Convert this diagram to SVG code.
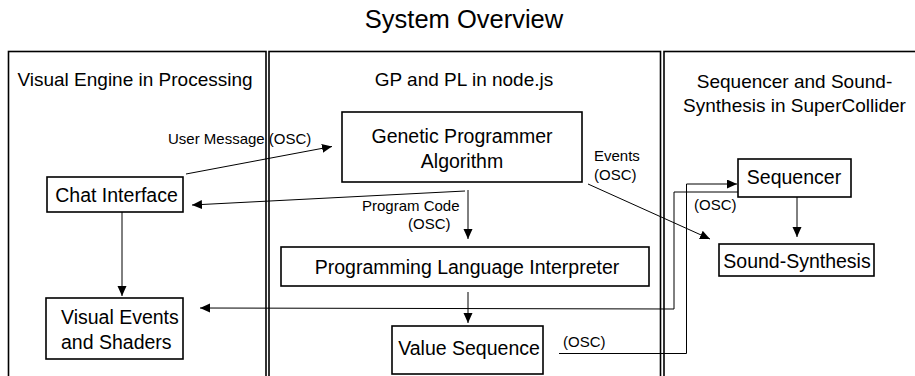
<svg xmlns="http://www.w3.org/2000/svg" width="915" height="376" viewBox="0 0 915 376">
  <style>
    text { font-family: "Liberation Sans", Arial, sans-serif; fill: #000; }
    .title { font-size: 25.5px; text-anchor: middle; }
    .ptitle { font-size: 19px; text-anchor: middle; }
    .ntext { font-size: 19.5px; text-anchor: middle; }
    .lbl { font-size: 15px; }
    .panel { fill: none; stroke: #000; stroke-width: 1.6; }
    .box { fill: #fff; stroke: #000; stroke-width: 1.6; }
    .conn { fill: none; stroke: #000; stroke-width: 1; }
  </style>
  <defs>
    <marker id="arrow" markerUnits="userSpaceOnUse" markerWidth="11" markerHeight="10" refX="10" refY="4.5" orient="auto">
      <path d="M0,0 L10,4.5 L0,9 z" fill="#000"/>
    </marker>
  </defs>
  <rect width="915" height="376" fill="#fff"/>
  <text class="title" x="464" y="28">System Overview</text>

  <g id="panel-processing">
    <rect class="panel" x="8.5" y="51.5" width="257.5" height="340"/>
    <text class="ptitle" x="135" y="86">Visual Engine in Processing</text>
  </g>
  <g id="panel-node">
    <rect class="panel" x="269" y="51.5" width="391.5" height="340"/>
    <text class="ptitle" x="464" y="86">GP and PL in node.js</text>
  </g>
  <g id="panel-supercollider">
    <rect class="panel" x="664" y="51.5" width="270" height="340"/>
    <text class="ptitle" x="794.5" y="88">Sequencer and Sound-</text>
    <text class="ptitle" x="794.5" y="112">Synthesis in SuperCollider</text>
  </g>

  <g id="connectors">
    <line class="conn" x1="186" y1="174" x2="332" y2="146.5" marker-end="url(#arrow)"/>
    <line class="conn" x1="465" y1="191" x2="192" y2="205" marker-end="url(#arrow)"/>
    <line class="conn" x1="468" y1="190" x2="468" y2="239" marker-end="url(#arrow)"/>
    <line class="conn" x1="588" y1="184" x2="710" y2="239" marker-end="url(#arrow)"/>
    <line class="conn" x1="797" y1="197" x2="797" y2="237" marker-end="url(#arrow)"/>
    <polyline class="conn" points="559,353.5 686.5,353.5 686.5,184 737,184" marker-end="url(#arrow)"/>
    <polyline class="conn" points="738,192 674,192 674,309 200,308" marker-end="url(#arrow)"/>
    <line class="conn" x1="122" y1="212" x2="122" y2="296" marker-end="url(#arrow)"/>
    <line class="conn" x1="468" y1="292" x2="468" y2="323" marker-end="url(#arrow)"/>
    <text class="lbl" x="168" y="144">User Message (OSC)</text>
    <text class="lbl" x="362" y="211">Program Code</text>
    <text class="lbl" x="408" y="228.5">(OSC)</text>
    <text class="lbl" x="594" y="161">Events</text>
    <text class="lbl" x="594" y="180">(OSC)</text>
    <text class="lbl" x="694" y="210">(OSC)</text>
    <text class="lbl" x="563" y="347">(OSC)</text>
  </g>

  <g id="node-chat">
    <rect class="box" x="47" y="177" width="136" height="35"/>
    <text class="ntext" x="116.5" y="202">Chat Interface</text>
  </g>
  <g id="node-visual-events">
    <rect class="box" x="46" y="298" width="137" height="61"/>
    <text class="ntext" x="61" y="323.5" text-anchor="start" style="text-anchor:start">Visual Events</text>
    <text class="ntext" x="61" y="348.5" style="text-anchor:start">and Shaders</text>
  </g>
  <g id="node-gp">
    <rect class="box" x="342" y="112" width="240" height="70"/>
    <text class="ntext" x="462" y="143">Genetic Programmer</text>
    <text class="ntext" x="462" y="168">Algorithm</text>
  </g>
  <g id="node-pli">
    <rect class="box" x="281" y="247" width="368" height="39"/>
    <text class="ntext" x="467" y="273.5">Programming Language Interpreter</text>
  </g>
  <g id="node-value-seq">
    <rect class="box" x="392" y="326" width="151" height="48"/>
    <text class="ntext" x="469" y="355">Value Sequence</text>
  </g>
  <g id="node-sequencer">
    <rect class="box" x="738" y="159" width="113" height="38"/>
    <text class="ntext" x="794" y="184">Sequencer</text>
  </g>
  <g id="node-sound-synthesis">
    <rect class="box" x="719" y="244" width="155" height="32"/>
    <text class="ntext" x="797" y="268">Sound-Synthesis</text>
  </g>
</svg>
